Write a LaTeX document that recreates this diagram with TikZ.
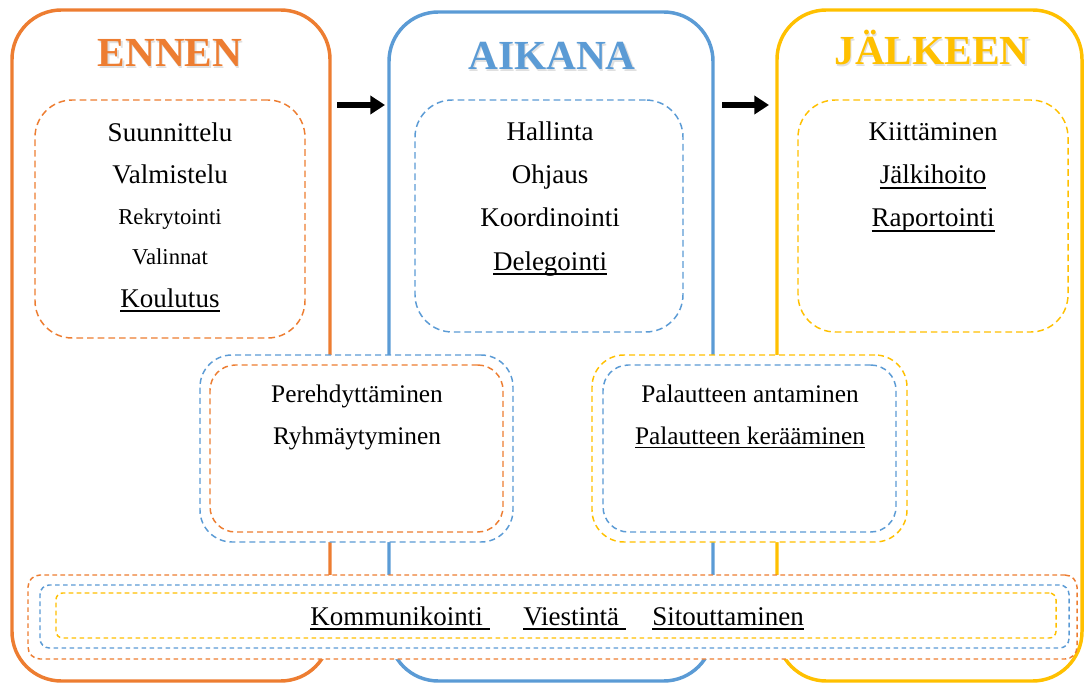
\documentclass[tikz,border=0pt]{standalone}
\usepackage{fontspec}
\setmainfont{Liberation Serif}
\usetikzlibrary{fit,arrows.meta}
\definecolor{cOr}{HTML}{ED7D31}
\definecolor{cBl}{HTML}{5B9BD5}
\definecolor{cYe}{HTML}{FFC000}
\newcommand\ulx[1]{\setbox0=\hbox{#1}\rlap{\rule[-0.17em]{\wd0}{0.055em}}\box0}
\newcommand\fN{\fontsize{20.25pt}{24pt}\selectfont}
\newcommand\fS{\fontsize{17pt}{20pt}\selectfont}
\newcommand\fM{\fontsize{19pt}{23pt}\selectfont}
\newcommand\fT{\fontsize{31pt}{36pt}\selectfont\bfseries}
\begin{document}
\begin{tikzpicture}[x=0.75pt,y=-0.75pt,
  bigbox/.style={draw=#1,line width=2.6pt,rounded corners=37pt,inner sep=0pt},
  dbox/.style={draw=#1,line width=1.1pt,dash pattern=on 5pt off 3pt,rounded corners=28pt,inner sep=0pt,fill=white},
  mbox/.style={draw=#1,line width=1.1pt,dash pattern=on 4.5pt off 3pt,inner sep=0pt,fill=white},
  bbox/.style={draw=#1,line width=1.1pt,dash pattern=on 3.5pt off 2.5pt,inner sep=0pt,fill=white},
  txt/.style={inner sep=0pt,anchor=base,font=\fN},
  stxt/.style={inner sep=0pt,anchor=base,font=\fS},
  mtxt/.style={inner sep=0pt,anchor=base,font=\fM},
  ttl/.style={inner sep=0pt,anchor=base,font=\fT,text=#1},
  shd/.style={inner sep=0pt,anchor=base,font=\fT,text=black!30,opacity=0.4},
  bigarrow/.style={line width=4.2pt,-{Triangle[length=11pt,width=13.5pt]}}]
\useasboundingbox (0,0) rectangle (1084,684);
% big phase boxes
\node[bigbox=cOr,fit={(12,10) (330,681)}] (ennen) {};
\node[bigbox=cBl,fit={(389,12) (713,681)}] (aikana) {};
\node[bigbox=cYe,fit={(777,10) (1082,681)}] (jalkeen) {};
% titles
\node[shd] at (171.5,68.5) {ENNEN};
\node[ttl=cOr] (tEnnen) at (170,67) {ENNEN};
\node[shd] at (553.5,71.5) {AIKANA};
\node[ttl=cBl] (tAikana) at (552,70) {AIKANA};
\node[shd] at (933.5,66.5) {JÄLKEEN};
\node[ttl=cYe] (tJalkeen) at (932,65) {JÄLKEEN};
% arrows
\coordinate (a1s) at (337,105);
\coordinate (a1e) at (385,105);
\coordinate (a2s) at (722,105);
\coordinate (a2e) at (769,105);
\draw[bigarrow] (a1s) -- (a1e);
\draw[bigarrow] (a2s) -- (a2e);
% inner boxes
\node[dbox=cOr,fit={(35,100) (305,338)}] (inEnnen) {};
\node[dbox=cBl,fit={(415,100) (683,332)}] (inAikana) {};
\node[dbox=cYe,fit={(798,100) (1068,332)}] (inJalkeen) {};
\node[txt] (e1) at (170,142) {Suunnittelu};
\node[txt] (e2) at (170,184) {Valmistelu};
\node[stxt] (e3) at (170,225) {Rekrytointi};
\node[stxt] (e4) at (170,264) {Valinnat};
\node[txt] (e5) at (170,307) {\ulx{Koulutus}};
\node[txt] (k1) at (550,141) {Hallinta};
\node[txt] (k2) at (550,184) {Ohjaus};
\node[txt] (k3) at (550,227) {Koordinointi};
\node[txt] (k4) at (550,270) {\ulx{Delegointi}};
\node[txt] (j1) at (933,141) {Kiittäminen};
\node[txt] (j2) at (933,184) {\ulx{Jälkihoito}};
\node[txt] (j3) at (933,227) {\ulx{Raportointi}};
% middle overlap boxes
\node[mbox=cBl,rounded corners=24pt,fit={(200,355) (513,542)}] (m1out) {};
\node[mbox=cOr,rounded corners=19pt,fit={(210,365) (503,532)}] (m1in) {};
\node[mtxt] (p1) at (357,402) {Perehdyttäminen};
\node[mtxt] (p2) at (357,444) {Ryhmäytyminen};
\node[mbox=cYe,rounded corners=24pt,fit={(592,355) (907,542)}] (m2out) {};
\node[mbox=cBl,rounded corners=19pt,fit={(603,365) (896,532)}] (m2in) {};
\node[mtxt] (q1) at (750,402) {Palautteen antaminen};
\node[mtxt] (q2) at (750,444) {\ulx{Palautteen kerääminen}};
% bottom common boxes
\node[bbox=cOr,rounded corners=9pt,fit={(28,575) (1077,659)}] (bOut) {};
\node[bbox=cBl,rounded corners=7pt,fit={(40,585) (1069,648)}] (bMid) {};
\node[bbox=cYe,rounded corners=5pt,fit={(56,593) (1056,638)}] (bIn) {};
\node[txt,anchor=base west] (b1) at (310,625) {\ulx{Kommunikointi\ }};
\node[txt,anchor=base west] (b2) at (523,625) {\ulx{Viestintä\ }};
\node[txt,anchor=base west] (b3) at (652,625) {\ulx{Sitouttaminen}};
\end{tikzpicture}
\end{document}
